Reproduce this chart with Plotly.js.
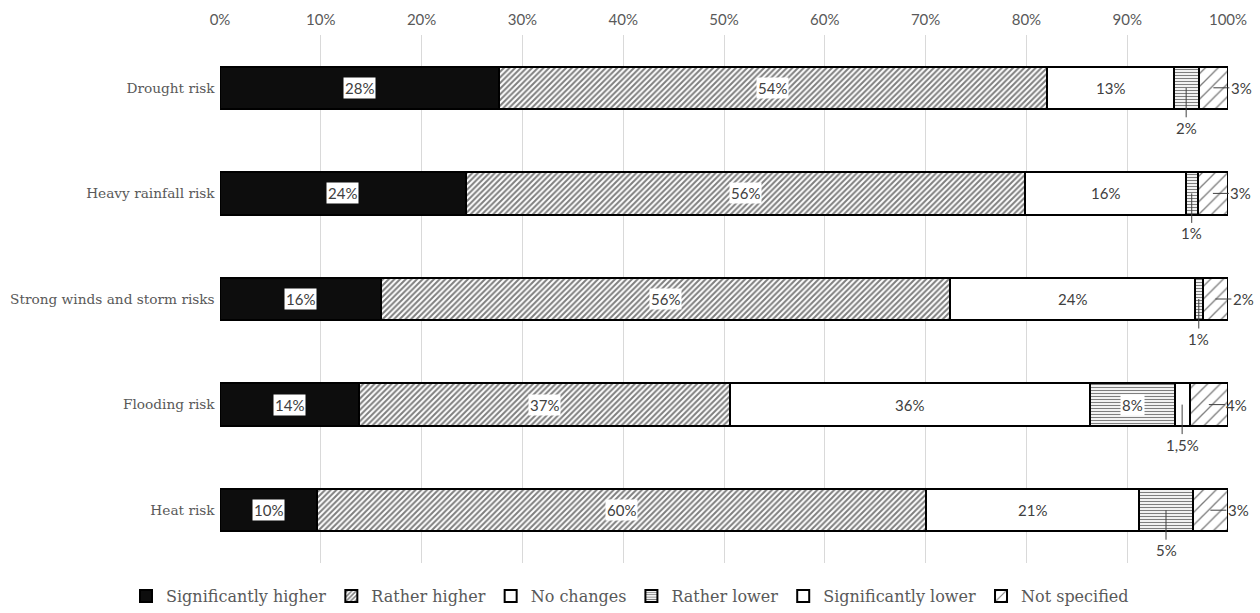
<!DOCTYPE html>
<html>
<head>
<meta charset="utf-8">
<script src="https://cdn.plot.ly/plotly-3.0.1.min.js"></script>
<style>html,body{margin:0;padding:0;background:#fff;}#chart{width:1260px;height:613px;}</style>
</head>
<body>
<div id="chart"></div>
<script>
// ---- data (percent) ----
const categories = ["Drought risk", "Heavy rainfall risk", "Strong winds and storm risks", "Flooding risk", "Heat risk"];
const seriesNames = ["Significantly higher", "Rather higher", "No changes", "Rather lower", "Significantly lower", "Not specified"];
const sigHigher   = [27.7, 24.4, 16.0, 13.8, 9.6];
const ratherHigher= [54.3, 55.5, 56.4, 36.8, 60.4];
const noChanges   = [12.6, 15.9, 24.3, 35.7, 21.2];
const ratherLower = [2.5, 1.2, 0.8, 8.4, 5.3];
const sigLower    = [null, null, null, 1.5, null];
const notSpecified= [2.9, 3.0, 2.5, 3.8, 3.5];
// labels as printed
const sigHigherLbl    = ["28%", "24%", "16%", "14%", "10%"];
const ratherHigherLbl = ["54%", "56%", "56%", "37%", "60%"];
const noChangesLbl    = ["13%", "16%", "24%", "36%", "21%"];
const ratherLowerLbl  = ["2%", "1%", "1%", "8%", "5%"];
const sigLowerLbl     = [null, null, null, "1,5%", null];
const notSpecifiedLbl = ["3%", "3%", "2%", "4%", "3%"];
const xTickVals  = [0,10,20,30,40,50,60,70,80,90,100];
const xTickText  = ["0%","10%","20%","30%","40%","50%","60%","70%","80%","90%","100%"];

const values = [sigHigher, ratherHigher, noChanges, ratherLower, sigLower, notSpecified];
const labels = [sigHigherLbl, ratherHigherLbl, noChangesLbl, ratherLowerLbl, sigLowerLbl, notSpecifiedLbl];

// ---- styles ----
const markers = [
  {color:"#0d0d0d", line:{color:"#000", width:2}},
  {color:"#ffffff", line:{color:"#000", width:2}, pattern:{shape:"/", fgcolor:"#000", bgcolor:"#fff", size:4, solidity:0.5, fillmode:"overlay"}},
  {color:"#ffffff", line:{color:"#000", width:2}},
  {color:"#ffffff", line:{color:"#000", width:2}, pattern:{shape:"-", fgcolor:"#000", bgcolor:"#fff", size:3, solidity:0.4, fillmode:"overlay"}},
  {color:"#ffffff", line:{color:"#000", width:2}},
  {color:"#ffffff", line:{color:"#000", width:2}, pattern:{shape:"/", fgcolor:"#000", bgcolor:"#fff", size:9, solidity:0.15, fillmode:"overlay"}}
];

const traces = seriesNames.map((n, s) => ({
  type:"bar", orientation:"h", name:n,
  y:categories, x:values[s],
  marker:markers[s], hoverinfo:"skip"
}));

// label placement rules: in (with white box), below (leader line down), right (leader line right)
function placement(s, i) {
  if (s === 5) return "right";
  if (s === 4) return "below";
  if (s === 3) return (values[s][i] > 6) ? "in" : "below";
  return "in";
}

const annFont = {family:"Lato, 'Open Sans', sans-serif", size:15, color:"#404040"};
const annotations = [];
categories.forEach((c, i) => {
  let cum = 0;
  values.forEach((arr, s) => {
    const v = arr[i];
    if (v == null) return;
    const center = cum + v / 2;
    cum += v;
    const lbl = labels[s][i];
    if (!lbl) return;
    const p = placement(s, i);
    if (p === "in") {
      annotations.push({x:center, y:c, xref:"x", yref:"y", text:lbl, showarrow:false,
        font:annFont, bgcolor:"#ffffff", borderpad:1});
    } else if (p === "below") {
      annotations.push({x:center, y:c, xref:"x", yref:"y", text:lbl, showarrow:true,
        arrowhead:0, arrowwidth:1, arrowcolor:"#404040", ax:0, ay:40, font:annFont, borderpad:1});
    } else {
      annotations.push({x:center, y:c, xref:"x", yref:"y", text:lbl, showarrow:true,
        arrowhead:0, arrowwidth:1, arrowcolor:"#404040", ax:28, ay:0, font:annFont, borderpad:1});
    }
  });
});

const layout = {
  width:1260, height:613,
  margin:{l:220, r:32, t:35, b:50, autoexpand:false},
  barmode:"stack", bargap:0.6,
  paper_bgcolor:"#fff", plot_bgcolor:"#fff",
  showlegend:true,
  xaxis:{side:"top", range:[0,100], tickmode:"array", tickvals:xTickVals, ticktext:xTickText,
    showgrid:true, gridcolor:"#d9d9d9", gridwidth:1, zeroline:false, showline:false,
    ticks:"", ticklabelstandoff:6,
    tickfont:{family:"Lato, 'Open Sans', sans-serif", size:15, color:"#595959"}, fixedrange:true},
  yaxis:{autorange:"reversed", showgrid:false, zeroline:false, showline:false, ticks:"",
    ticksuffix:" ",
    tickfont:{family:"'DejaVu Serif', serif", size:13.7, color:"#595959"}, fixedrange:true},
  legend:{orientation:"h", xref:"container", x:0.5, xanchor:"center",
    yref:"container", y:-0.006, yanchor:"bottom", traceorder:"normal",
    font:{family:"'DejaVu Serif', serif", size:16, color:"#595959"}, itemwidth:30, itemclick:false,
    tracegroupgap:0},
  annotations:annotations
};

Plotly.newPlot("chart", traces, layout, {displayModeBar:false, staticPlot:true});
</script>
</body>
</html>
